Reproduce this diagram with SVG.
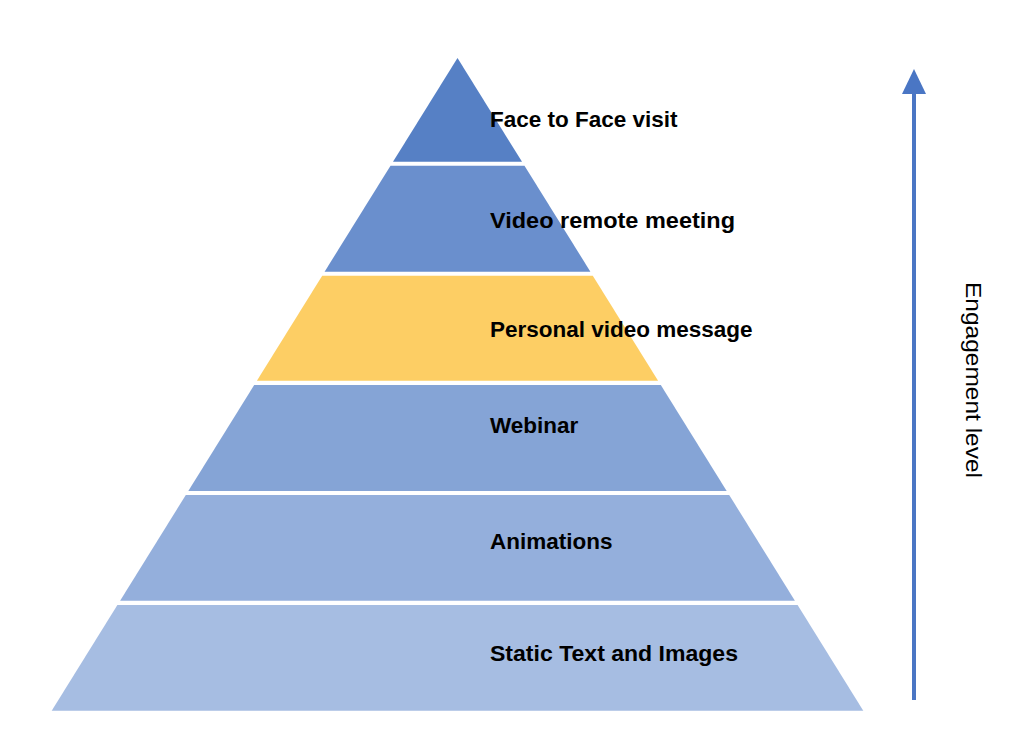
<svg xmlns="http://www.w3.org/2000/svg" width="1034" height="754" viewBox="0 0 1034 754">
<style>
.lbl{font-family:"Liberation Sans",Arial,sans-serif;font-weight:bold;font-size:22.5px;fill:#000}
.axis{font-family:"Liberation Sans",Arial,sans-serif;font-size:22px;fill:#000}
</style>
<defs>
<marker id="ah" viewBox="0 0 25 24" refX="1" refY="12" markerWidth="25" markerHeight="24" markerUnits="userSpaceOnUse" orient="auto">
<path d="M0,0 L25,12 L0,24 Z" fill="#4A76C4"/>
</marker>
</defs>
<rect width="1034" height="754" fill="#fff"/>
<g id="layer1"><polygon points="457.5,58 522,161.7 393,161.7" fill="#5680C5"/><text class="lbl" x="490" y="127">Face to Face visit</text></g>
<g id="layer2"><polygon points="390.5,165.7 524.5,165.7 590.4,271.7 324.6,271.7" fill="#6A8FCD"/><text class="lbl" x="490" y="228" textLength="245" lengthAdjust="spacingAndGlyphs">Video remote meeting</text></g>
<g id="layer3"><polygon points="322.2,275.7 592.8,275.7 658.1,380.7 256.9,380.7" fill="#FDCE64"/><text class="lbl" x="490" y="337">Personal video message</text></g>
<g id="layer4"><polygon points="254.2,385 660.8,385 726.7,491 188.3,491" fill="#85A4D6"/><text class="lbl" x="490" y="433">Webinar</text></g>
<g id="layer5"><polygon points="185.8,495 729.2,495 794.9,600.7 120.1,600.7" fill="#94AFDC"/><text class="lbl" x="490" y="549">Animations</text></g>
<g id="layer6"><polygon points="117.4,605 797.6,605 863.3,710.7 51.7,710.7" fill="#A6BDE2"/><text class="lbl" x="490" y="661" textLength="248" lengthAdjust="spacingAndGlyphs">Static Text and Images</text></g>
<g id="connectors"><line x1="914" y1="700" x2="914" y2="93" stroke="#4A76C4" stroke-width="4" marker-end="url(#ah)"/></g>
<g id="axis-label"><text class="axis" transform="translate(966,282) rotate(90)" textLength="196" lengthAdjust="spacingAndGlyphs">Engagement level</text></g>
</svg>
